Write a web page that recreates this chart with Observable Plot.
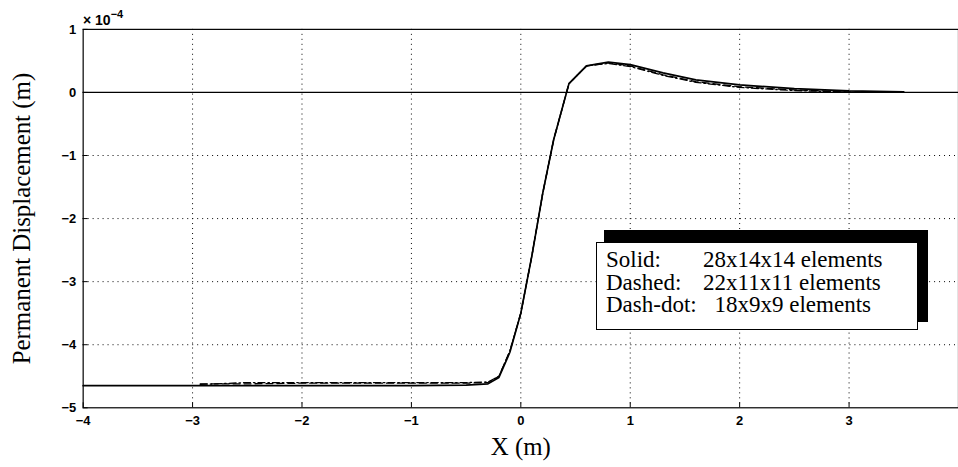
<!DOCTYPE html>
<html>
<head>
<meta charset="utf-8">
<script src="https://cdn.jsdelivr.net/npm/d3@7"></script>
<script src="https://cdn.jsdelivr.net/npm/@observablehq/plot@0.6"></script>
<style>
  html, body { margin: 0; padding: 0; background: #fff; overflow: hidden; }
  #wrap { position: relative; width: 958px; height: 467px; overflow: hidden; }
  #exp { position: absolute; left: 83px; top: 9px; font: 600 14px "Liberation Sans", Arial, sans-serif; color: #000; }
  #exp sup { font-size: 11px; position: relative; top: -1px; }
  #shadow { position: absolute; left: 604px; top: 230px; width: 324px; height: 92px; background: #000; }
  #legend { position: absolute; left: 596px; top: 242px; width: 320px; height: 86px; background: #fff; border: 1px solid #000;
            font: 23px "Liberation Serif", "Times New Roman", serif; color: #000; }
  #legend .col { position: absolute; top: 6px; white-space: pre; line-height: 22.5px; }
</style>
</head>
<body>
<div id="wrap"></div>
<script>
// ---- data (values in units of 1e-4 m) ----
const xTicks = [-4, -3, -2, -1, 0, 1, 2, 3];
const yTicks = [-5, -4, -3, -2, -1, 0, 1];
const xGrid = [-3, -2, -1, 0, 1, 2, 3];
const yGrid = [-4, -3, -2, -1];

const solidX = [-4, -3.5, -3, -2.5, -2, -1.5, -1, -0.5, -0.3, -0.2, -0.1, 0, 0.1, 0.2, 0.3, 0.44, 0.6, 0.8, 1.0, 1.3, 1.6, 2.0, 2.5, 3.0, 3.5];
const solidY = [-4.65, -4.65, -4.65, -4.65, -4.65, -4.65, -4.65, -4.64, -4.62, -4.52, -4.12, -3.5, -2.6, -1.6, -0.75, 0.14, 0.42, 0.48, 0.44, 0.31, 0.2, 0.12, 0.06, 0.025, 0.01];

const dashedX = [-2.93, -2.5, -2, -1.5, -1, -0.5, -0.3, -0.2, -0.1, 0, 0.1, 0.2, 0.3, 0.44, 0.6, 0.8, 1.0, 1.3, 1.6, 2.0, 2.5, 3.0, 3.3];
const dashedY = [-4.62, -4.62, -4.61, -4.61, -4.61, -4.61, -4.6, -4.5, -4.1, -3.5, -2.6, -1.6, -0.75, 0.14, 0.42, 0.47, 0.42, 0.28, 0.17, 0.09, 0.04, 0.01, 0.0];

const dashdotX = [-2.93, -2.5, -2, -1.5, -1, -0.5, -0.3, -0.2, -0.1, 0, 0.1, 0.2, 0.3, 0.44, 0.6, 0.8, 1.0, 1.3, 1.6, 2.0, 2.5, 3.0, 3.3];
const dashdotY = [-4.63, -4.6, -4.6, -4.6, -4.6, -4.6, -4.59, -4.5, -4.1, -3.5, -2.6, -1.6, -0.75, 0.14, 0.42, 0.46, 0.41, 0.27, 0.16, 0.08, 0.03, 0.005, 0.0];

const legendLabels = ["Solid:", "Dashed:", "Dash-dot:"];
const legendValues = ["28x14x14 elements", "22x11x11 elements", "  18x9x9 elements"];

const toPts = (xs, ys) => xs.map((x, i) => ({x, y: ys[i]}));
const solid = toPts(solidX, solidY);
const dashed = toPts(dashedX, dashedY);
const dashdot = toPts(dashdotX, dashdotY);

const fmt = d3.format("d");
const tickFont = {fontFamily: "Liberation Sans, Arial, sans-serif", fontWeight: 600, fontSize: 13, tickFormat: fmt};
const serif = "Liberation Serif, Times New Roman, serif";

const chart = Plot.plot({
  width: 962,
  height: 467,
  marginLeft: 83,
  marginRight: 0,
  marginTop: 29,
  marginBottom: 58,
  style: {fontSize: "12px", background: "white", color: "black", overflow: "visible"},
  x: {domain: [-4, 4]},
  y: {domain: [-5, 1]},
  marks: [
    Plot.gridX(xGrid, {stroke: "black", strokeOpacity: 1, strokeDasharray: "1,4", strokeWidth: 1}),
    Plot.gridY(yGrid, {stroke: "black", strokeOpacity: 1, strokeDasharray: "1,4", strokeWidth: 1}),
    Plot.ruleY([0], {stroke: "black", strokeWidth: 1.2}),
    Plot.line(dashdot, {x: "x", y: "y", stroke: "black", strokeWidth: 1.3, strokeDasharray: "7,3,1.5,3"}),
    Plot.line(dashed, {x: "x", y: "y", stroke: "black", strokeWidth: 1.3, strokeDasharray: "7,4"}),
    Plot.line(solid, {x: "x", y: "y", stroke: "black", strokeWidth: 1.7}),
    Plot.frame({stroke: "black", strokeWidth: 1.2}),
    Plot.axisX(xTicks, {anchor: "bottom", tickSize: -5, tickPadding: 13, label: null, ...tickFont}),
    Plot.axisY(yTicks, {anchor: "left", tickSize: -5, tickPadding: 12, label: null, ...tickFont}),
    Plot.text(["Permanent Displacement (m)"], {text: d => d, frameAnchor: "left", textAnchor: "middle", dx: -61, rotate: -90,
      fontFamily: serif, fontSize: 25, fill: "black"}),
    Plot.text(["X (m)"], {text: d => d, frameAnchor: "bottom", dy: 47,
      fontFamily: serif, fontSize: 25, fill: "black"})
  ]
});

const wrap = document.getElementById("wrap");
wrap.appendChild(chart);

const exp = document.createElement("div");
exp.id = "exp";
exp.innerHTML = "× 10<sup>−4</sup>";
wrap.appendChild(exp);

const shadow = document.createElement("div");
shadow.id = "shadow";
wrap.appendChild(shadow);

const legend = document.createElement("div");
legend.id = "legend";
const labCol = document.createElement("div");
labCol.className = "col";
labCol.style.left = "9px";
labCol.textContent = legendLabels.join("\n");
legend.appendChild(labCol);
const valCol = document.createElement("div");
valCol.className = "col";
valCol.style.left = "106px";
valCol.textContent = legendValues.join("\n");
legend.appendChild(valCol);
wrap.appendChild(legend);
</script>
</body>
</html>
